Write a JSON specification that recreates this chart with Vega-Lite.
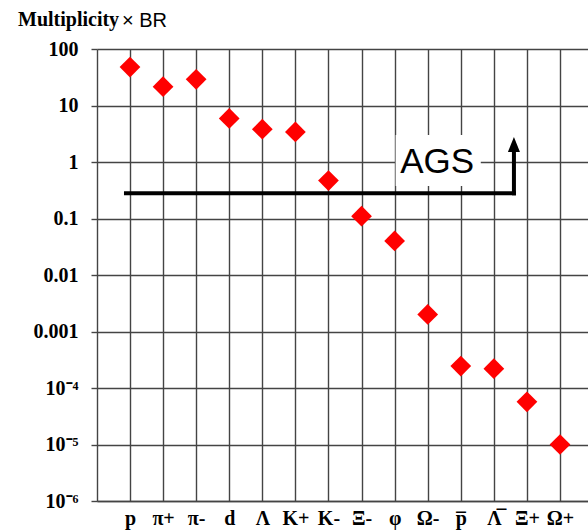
{
  "$schema": "https://vega.github.io/schema/vega-lite/v6.json",
  "width": 491,
  "height": 452,
  "autosize": "none",
  "padding": {"left": 97, "top": 49, "right": 0, "bottom": 29},
  "background": "white",
  "title": {
    "text": "Multiplicity",
    "anchor": "start",
    "frame": "group",
    "dx": -79,
    "offset": -36.4,
    "baseline": "alphabetic",
    "font": "Liberation Serif",
    "fontSize": 20,
    "fontWeight": "bold",
    "color": "black"
  },
  "config": {"view": {"stroke": null}},
  "layer": [
    {
      "description": "Multiplicity x branching ratio for each species",
      "data": {
        "values": [
          {"particle": "p", "value": 48},
          {"particle": "π+", "value": 21.5},
          {"particle": "π-", "value": 29},
          {"particle": "d", "value": 5.9},
          {"particle": "Λ", "value": 3.8},
          {"particle": "K+", "value": 3.4},
          {"particle": "K-", "value": 0.47},
          {"particle": "Ξ-", "value": 0.11},
          {"particle": "φ", "value": 0.04},
          {"particle": "Ω-", "value": 0.002},
          {"particle": "p̅", "value": 0.000245},
          {"particle": "Λ̅", "value": 0.00022},
          {"particle": "Ξ+", "value": 0.000057},
          {"particle": "Ω+", "value": 0.00001}
        ]
      },
      "mark": {"type": "point", "shape": "diamond", "filled": true, "color": "#ff0000", "opacity": 1, "size": 430},
      "encoding": {
        "x": {
          "field": "particle",
          "type": "nominal",
          "sort": null,
          "scale": {
            "type": "point",
            "domain": ["p", "π+", "π-", "d", "Λ", "K+", "K-", "Ξ-", "φ", "Ω-", "p̅", "Λ̅", "Ξ+", "Ω+"],
            "padding": 0.9215,
            "align": 0.541
          },
          "axis": {
            "title": null,
            "labelAngle": 0,
            "grid": true,
            "gridColor": "#444",
            "gridWidth": 1.4,
            "gridOpacity": 1,
            "ticks": false,
            "tickSize": 0,
            "domain": true,
            "domainColor": "#444",
            "domainWidth": 1.4,
            "labelFont": "Liberation Serif",
            "labelFontSize": 20,
            "labelFontWeight": "bold",
            "labelColor": "black",
            "labelBaseline": "alphabetic",
            "labelPadding": 23
          }
        },
        "y": {
          "field": "value",
          "type": "quantitative",
          "scale": {"type": "log", "domain": [0.000001, 100], "nice": false},
          "axis": {
            "values": [0.000001, 0.00001, 0.0001, 0.001, 0.01, 0.1, 1, 10, 100],
            "labelExpr": "datum.value < 0.00005 ? (datum.value < 0.000005 ? '10⁻⁶' : '10⁻⁵') : datum.value < 0.0005 ? '10⁻⁴' : format(datum.value, '~g')",
            "title": "× BR",
            "titleAngle": 0,
            "titleAlign": "left",
            "titleBaseline": "alphabetic",
            "titleX": 24.5,
            "titleY": -23,
            "titleFont": "Liberation Sans",
            "titleFontSize": 20,
            "titleFontWeight": "normal",
            "titleColor": "black",
            "grid": true,
            "gridColor": "#444",
            "gridWidth": 1.4,
            "gridOpacity": 1,
            "tickSize": 6,
            "tickColor": "#444",
            "tickWidth": 1.4,
            "domainColor": "#444",
            "domainWidth": 1.4,
            "labelPadding": 13,
            "labelFont": "Liberation Serif",
            "labelFontSize": 20,
            "labelFontWeight": "bold",
            "labelColor": "black",
            "labelBaseline": "middle"
          }
        }
      }
    },
    {
      "description": "white backing behind the AGS label",
      "data": {"values": [{"particle": "φ", "particle2": "p̅", "value": 3.0, "value2": 0.376}]},
      "mark": {"type": "rect", "fill": "white", "xOffset": 1, "x2Offset": 20},
      "encoding": {
        "x": {"field": "particle", "type": "nominal"},
        "x2": {"field": "particle2"},
        "y": {"field": "value", "type": "quantitative"},
        "y2": {"field": "value2"}
      }
    },
    {
      "description": "AGS reach: horizontal bar",
      "data": {"values": [{"particle": "p", "particle2": "Ξ+", "value": 0.279}]},
      "mark": {"type": "rule", "color": "black", "strokeWidth": 4, "strokeCap": "square", "xOffset": -4, "x2Offset": -13},
      "encoding": {
        "x": {"field": "particle", "type": "nominal"},
        "x2": {"field": "particle2"},
        "y": {"field": "value", "type": "quantitative"}
      }
    },
    {
      "description": "AGS reach: upward arrow shaft",
      "data": {"values": [{"particle": "Ξ+", "value": 0.279, "value2": 2.04}]},
      "mark": {"type": "rule", "color": "black", "strokeWidth": 4, "strokeCap": "square", "xOffset": -13},
      "encoding": {
        "x": {"field": "particle", "type": "nominal"},
        "y": {"field": "value", "type": "quantitative"},
        "y2": {"field": "value2"}
      }
    },
    {
      "description": "AGS reach: arrow head",
      "data": {"values": [{"particle": "Ξ+", "value": 2.04}]},
      "mark": {"type": "point", "shape": "M0,-1L-0.8,1L0.8,1Z", "size": 225, "filled": true, "color": "black", "opacity": 1, "xOffset": -13},
      "encoding": {
        "x": {"field": "particle", "type": "nominal"},
        "y": {"field": "value", "type": "quantitative"}
      }
    },
    {
      "description": "AGS label",
      "data": {"values": [{"particle": "Ω-", "value": 0.64, "label": "AGS"}]},
      "mark": {"type": "text", "font": "Liberation Sans", "fontSize": 35, "color": "black", "align": "center", "baseline": "alphabetic", "dx": 9.5},
      "encoding": {
        "x": {"field": "particle", "type": "nominal"},
        "y": {"field": "value", "type": "quantitative"},
        "text": {"field": "label"}
      }
    }
  ]
}
